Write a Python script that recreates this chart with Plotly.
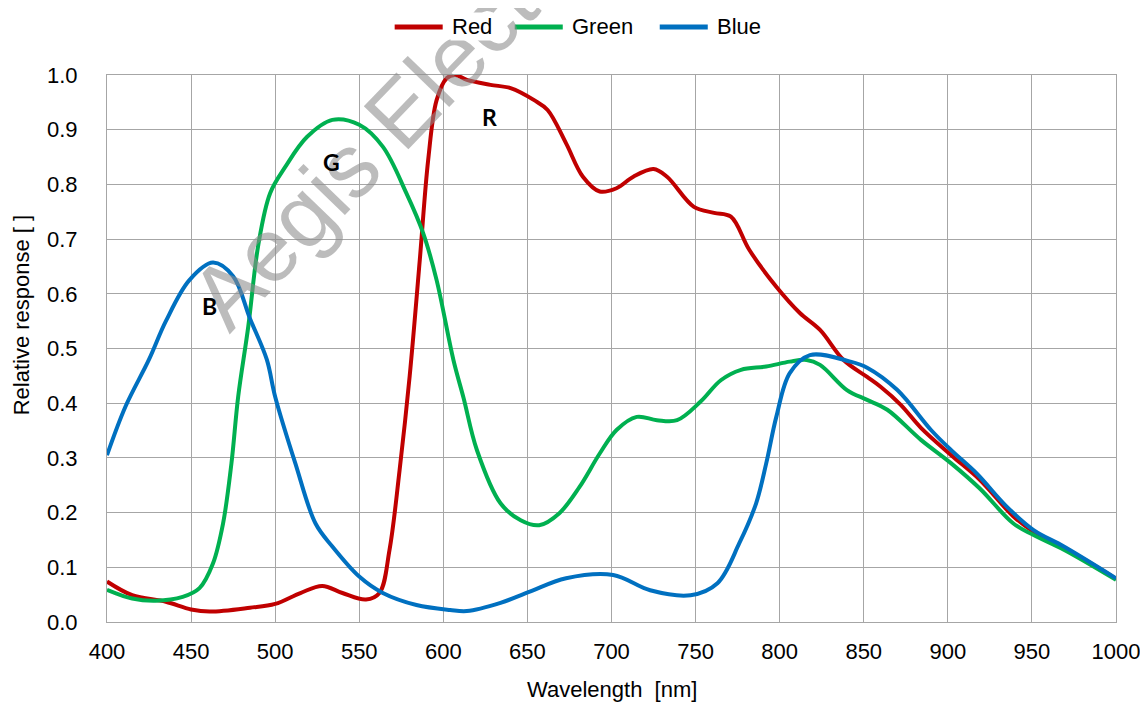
import plotly.graph_objects as go

# Wavelength (nm) and relative response
red_x = [400, 415, 435, 450, 461, 485, 500, 515, 528, 540, 554, 562, 568, 574, 580, 586, 591, 596,
         602, 607, 614, 628, 640, 654, 662, 673, 683, 693, 703, 713, 725, 733, 749, 761, 771, 782,
         798, 812, 824, 838, 852, 860, 872, 884, 902, 919, 939, 951, 969, 1000]
red_y = [0.074, 0.049, 0.037, 0.023, 0.019, 0.026, 0.033, 0.053, 0.066, 0.053, 0.041, 0.053, 0.132,
         0.278, 0.45, 0.662, 0.845, 0.954, 0.994, 1.0, 0.991, 0.982, 0.976, 0.954, 0.936, 0.875,
         0.814, 0.787, 0.793, 0.814, 0.828, 0.814, 0.759, 0.748, 0.741, 0.68, 0.613, 0.565, 0.534,
         0.479, 0.448, 0.43, 0.397, 0.355, 0.305, 0.26, 0.193, 0.165, 0.136, 0.079]

green_x = [400, 415, 429, 445, 455, 463, 469, 474, 478, 484, 490, 497, 506, 519, 534, 550, 564, 578,
           588, 596, 606, 612, 620, 634, 646, 657, 669, 681, 693, 703, 715, 727, 739, 753, 765, 777,
           792, 806, 816, 824, 840, 852, 864, 884, 902, 919, 939, 951, 969, 1000]
green_y = [0.059, 0.043, 0.039, 0.046, 0.062, 0.107, 0.18, 0.29, 0.412, 0.54, 0.69, 0.784, 0.832,
           0.887, 0.918, 0.909, 0.869, 0.784, 0.711, 0.625, 0.479, 0.41, 0.314, 0.217, 0.186, 0.177,
           0.199, 0.247, 0.308, 0.351, 0.375, 0.369, 0.369, 0.403, 0.442, 0.461, 0.467, 0.476, 0.479,
           0.47, 0.424, 0.406, 0.388, 0.333, 0.29, 0.244, 0.18, 0.159, 0.132, 0.077]

blue_x = [400, 411, 425, 435, 449, 463, 475, 485, 495, 500, 512, 524, 534, 550, 564, 584, 604, 614,
          634, 651, 673, 701, 723, 747, 763, 776, 786, 792, 798, 806, 818, 842, 852, 870, 890, 902,
          917, 935, 951, 969, 1000]
blue_y = [0.305, 0.394, 0.48, 0.55, 0.625, 0.657, 0.632, 0.555, 0.48, 0.412, 0.29, 0.18, 0.138,
          0.083, 0.053, 0.031, 0.022, 0.02, 0.035, 0.055, 0.08, 0.086, 0.058, 0.049, 0.071, 0.144,
          0.217, 0.29, 0.375, 0.455, 0.488, 0.476, 0.465, 0.424, 0.351, 0.314, 0.272, 0.211, 0.168,
          0.138, 0.08]

series_names = ["Red", "Green", "Blue"]
series_x = [red_x, green_x, blue_x]
series_y = [red_y, green_y, blue_y]
series_colors = ["#c00000", "#00b050", "#0070c0"]

x_ticks = list(range(400, 1001, 50))
y_ticks = [round(i * 0.1, 1) for i in range(11)]

curve_labels = ["R", "G", "B"]
curve_label_x = [627.7, 533.5, 461]
curve_label_y = [0.923, 0.841, 0.578]

fig = go.Figure()
for name, xs, ys, col in zip(series_names, series_x, series_y, series_colors):
    fig.add_trace(go.Scatter(x=xs, y=ys, name=name, mode="lines", showlegend=False,
                             line=dict(color=col, width=4, shape="spline", smoothing=1)))

font_main = "Liberation Sans, Arial, sans-serif"
grid = "#a6a6a6"

fig.update_layout(
    width=1140, height=694,
    paper_bgcolor="white", plot_bgcolor="white",
    margin=dict(l=99, r=32, t=67, b=80, autoexpand=False),
    font=dict(family=font_main, size=22, color="#000000"),
    showlegend=False,
    xaxis=dict(range=[400, 1000], tickvals=x_ticks, showgrid=True, gridcolor=grid, gridwidth=1,
               showline=True, linecolor=grid, linewidth=1, mirror=True, zeroline=False,
               ticks="", ticklabelstandoff=10, automargin=False),
    yaxis=dict(range=[0, 1], tickvals=y_ticks, tickformat=".1f", showgrid=True, gridcolor=grid,
               gridwidth=1, showline=True, linecolor=grid, linewidth=1, mirror=True,
               zeroline=False, ticks="", ticklabelstandoff=24, automargin=False),
)

# watermark (drawn first so the legend and labels sit above it)
fig.add_annotation(x=0.3366, y=1.0183, xref="paper", yref="paper", text="Aegis Electronics",
                   textangle=-46, showarrow=False, xanchor="center", yanchor="middle",
                   font=dict(family=font_main, size=90, color="rgba(140,140,140,0.58)"))

for txt, xv, yv in zip(curve_labels, curve_label_x, curve_label_y):
    fig.add_annotation(x=xv, y=yv, xref="x", yref="y", text=f"<b>{txt}</b>", showarrow=False,
                       font=dict(family="Lato, Open Sans, sans-serif", size=23, color="#000000"))

fig.add_annotation(x=-0.085, y=0.561, xref="paper", yref="paper", text="Relative response [ ]",
                   textangle=-90, showarrow=False, xanchor="center", yanchor="middle",
                   font=dict(size=22, color="#000000"))
fig.add_annotation(x=0.5, y=-0.1225, xref="paper", yref="paper", text="Wavelength\u00a0 [nm]",
                   showarrow=False, xanchor="center", yanchor="middle",
                   font=dict(size=22, color="#000000"))

# legend (top, horizontal) built to match the reference's long line samples
leg_y = 1.0878
leg_line_start = [0.2851, 0.4041, 0.5478]
leg_line_len = 0.0476
leg_text_gap = 0.007
for name, col, x0 in zip(series_names, series_colors, leg_line_start):
    fig.add_shape(type="line", xref="paper", yref="paper", x0=x0, x1=x0 + leg_line_len,
                  y0=leg_y, y1=leg_y, line=dict(color=col, width=5))
    fig.add_annotation(x=x0 + leg_line_len + leg_text_gap, y=leg_y, xref="paper", yref="paper",
                       text=name, showarrow=False, xanchor="left", yanchor="middle",
                       font=dict(size=22, color="#000000"), bgcolor="white")

fig.write_html("out.html")
